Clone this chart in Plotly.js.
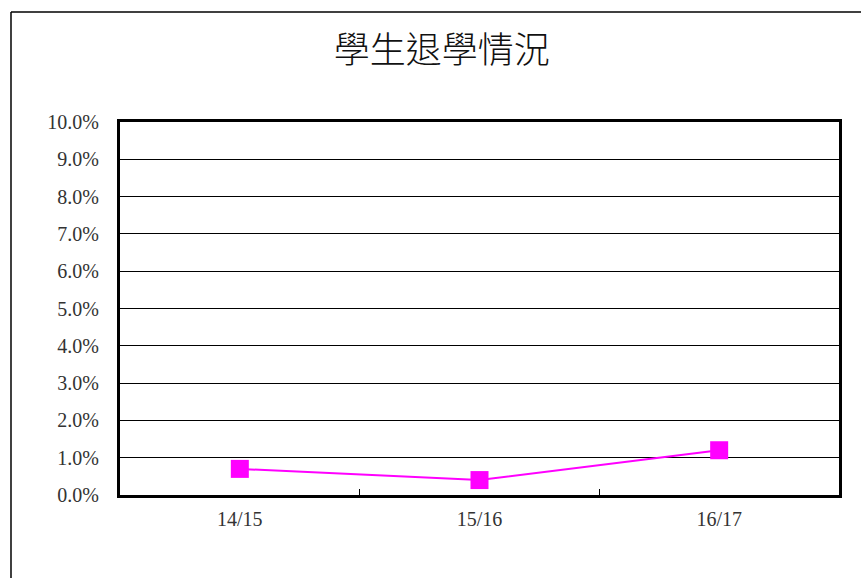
<!DOCTYPE html>
<html><head><meta charset="utf-8">
<script src="https://cdn.plot.ly/plotly-3.0.1.min.js"></script>
<style>html,body{margin:0;padding:0;background:#fff;}#chart{width:861px;height:578px;}</style>
</head><body><div id="chart"></div>
<script>
const categories = ["14/15", "15/16", "16/17"];
const dropoutRate = [0.007, 0.004, 0.012];
const yTickVals = [0,0.01,0.02,0.03,0.04,0.05,0.06,0.07,0.08,0.09,0.10];
const yTickText = ["0.0%","1.0%","2.0%","3.0%","4.0%","5.0%","6.0%","7.0%","8.0%","9.0%","10.0%"];
const titleText = "學生退學情況";

const trace = {
  x: categories, y: dropoutRate, type: "scatter", mode: "lines+markers",
  line: {color: "#FF00FF", width: 2},
  marker: {symbol: "square", size: 18, color: "#FF00FF"},
  cliponaxis: false, hoverinfo: "skip"
};
const layout = {
  width: 861, height: 578,
  margin: {l: 120, r: 22, t: 122, b: 83},
  paper_bgcolor: "#fff", plot_bgcolor: "#fff",
  showlegend: false,
  title: {text: titleText, x: 0.513, xanchor: "center", y: 0.913, yanchor: "middle",
          font: {family: "Noto Sans CJK TC", size: 36, color: "#111", weight: 300}},
  font: {family: "Liberation Serif", size: 20, color: "#333"},
  xaxis: {type: "category", range: [-0.5, 2.5], showgrid: false, zeroline: false,
          showline: true, linecolor: "#000", linewidth: 3, mirror: true,
          ticks: "inside", tickson: "boundaries", ticklen: 6, tickcolor: "#000", tickwidth: 1,
          ticklabelstandoff: 4,
          tickfont: {family: "Liberation Serif", size: 20, color: "#333"}},
  yaxis: {range: [0, 0.10], tickvals: yTickVals, ticktext: yTickText,
          showgrid: true, gridcolor: "#000", gridwidth: 1, zeroline: false,
          showline: true, linecolor: "#000", linewidth: 3, mirror: true,
          ticks: "", ticklabelstandoff: 14,
          tickfont: {family: "Liberation Serif", size: 20, color: "#333"}},
  shapes: [
    {type: "line", xref: "paper", yref: "paper", x0: -0.1516, x1: -0.1516, y0: -0.3, y1: 1.2949,
     line: {color: "#000", width: 1.5}},
    {type: "line", xref: "paper", yref: "paper", x0: -0.1516, x1: 1.1, y0: 1.2949, y1: 1.2949,
     line: {color: "#000", width: 1.5}}
  ]
};
Plotly.newPlot("chart", [trace], layout, {staticPlot: true, displayModeBar: false});
</script></body></html>
